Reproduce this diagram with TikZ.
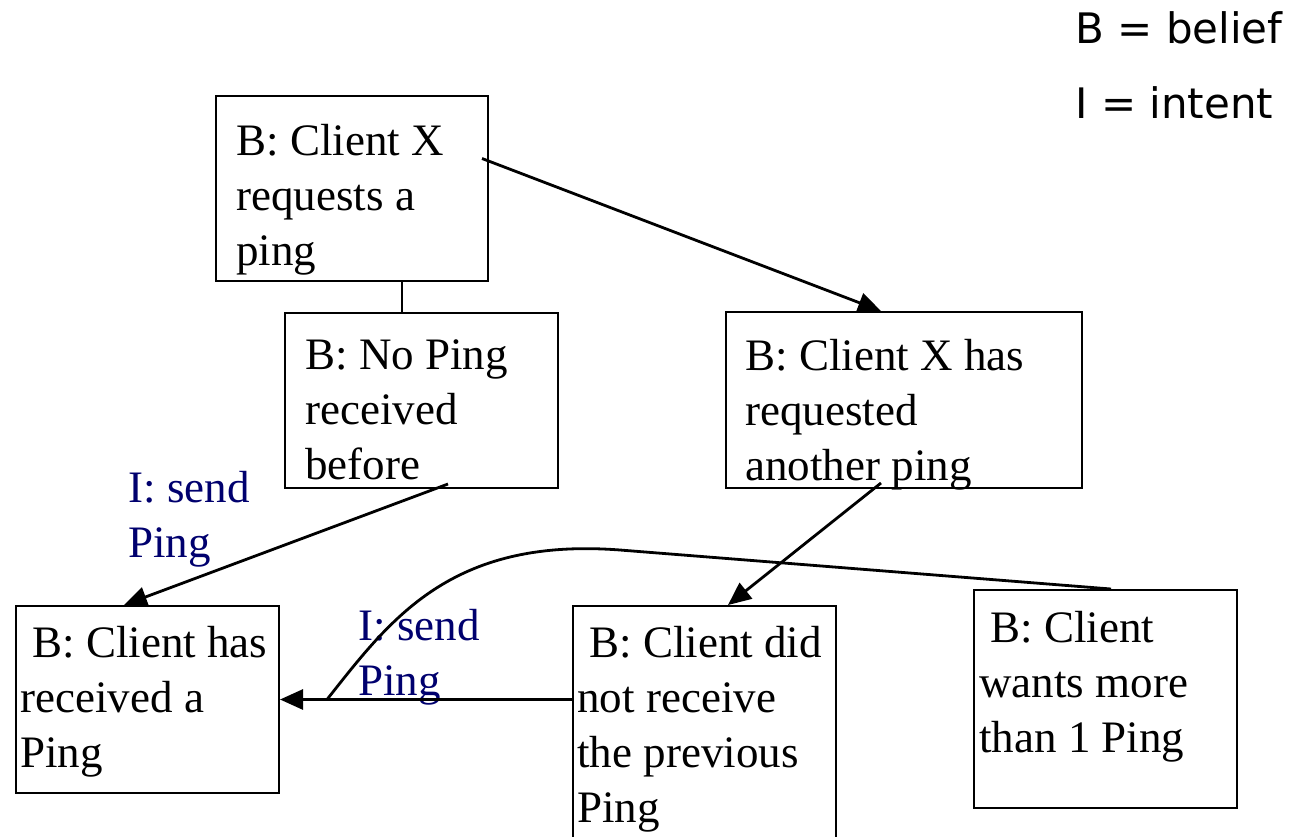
\documentclass[tikz,border=0pt]{standalone}
\usepackage{fontspec}
\setmainfont{Liberation Serif}
\newfontfamily\legendfont{DejaVu Sans}
\usepackage{tikz}
\usetikzlibrary{arrows.meta}

\definecolor{intentblue}{RGB}{0,0,110}

\tikzset{
    belief/.style={draw, line width=1pt, anchor=north west, inner sep=0pt},
    boxtext/.style={anchor=north west, inner sep=0pt, align=left,
        font=\fontsize{22.5}{27.5}\selectfont},
    intent/.style={boxtext, text=intentblue},
    link/.style={line width=1.4pt, -{Triangle[length=11.5pt,width=10pt]}}
}

\begin{document}
\begin{tikzpicture}[x=0.5pt, y=-0.5pt]
    \useasboundingbox (0,0) rectangle (1291,836);

    % Legend
    \node[anchor=north west, inner sep=0pt, align=left,
        font=\legendfont\fontsize{21}{37.5}\selectfont] (legend) at (1075,11)
        {B = belief\\I = intent};

    % Belief boxes
    \node[belief, minimum width=136pt, minimum height=92.5pt] (request) at (215,95) {};
    \node[belief, minimum width=136.5pt, minimum height=87.5pt] (noping) at (284,312) {};
    \node[belief, minimum width=178pt, minimum height=88pt] (again) at (725,311) {};
    \node[belief, minimum width=131.5pt, minimum height=93.5pt] (received) at (15,605) {};
    \node[belief, minimum width=131.5pt, minimum height=130pt] (missed) at (572,605) {};
    \node[belief, minimum width=131.5pt, minimum height=109pt] (wantmore) at (973,589) {};

    % Box texts
    \node[boxtext] (requesttext) at (236,124) {B: Client X\\requests a\\ping};
    \node[boxtext] (nopingtext) at (305,339) {B: No Ping\\received\\before};
    \node[boxtext] (againtext) at (745,339) {B: Client X has\\requested\\another ping};
    \node[boxtext] (receivedtext) at (20,626) {\hspace*{6pt}B: Client has\\received a\\Ping};
    \node[boxtext] (missedtext) at (577,626) {\hspace*{6pt}B: Client did\\not receive\\the previous\\Ping};
    \node[boxtext] (wantmoretext) at (979,611) {\hspace*{5.5pt}B: Client\\wants more\\than 1 Ping};

    % Intents
    \node[intent] (sendfirst) at (128,471) {I: send\\Ping};
    \node[intent] (sendagain) at (358,609) {I: send\\Ping};

    % Connectors
    \draw[line width=1pt] ([xshift=25pt]request.south) -- ([xshift=-9.75pt]noping.north);
    \draw[link] ([xshift=-3.5pt,yshift=15pt]request.east) -- ([xshift=-11.5pt]again.north);
    \draw[link] ([xshift=13.25pt,yshift=2.5pt]noping.south) -- ([xshift=-11.75pt]received.north);
    \draw[link] ([xshift=-11.5pt,yshift=3pt]again.south) -- ([xshift=11.75pt]missed.north);
    \draw[link] (missed.west |- received.east) -- (received.east);

    % Second ping joins the send arrow
    \coordinate (join) at ([xshift=23.5pt]received.east);
    \draw[line width=1.4pt] ([xshift=2.75pt]wantmore.north) -- (620,550)
        .. controls (450,537) and (390,620) .. (join);
\end{tikzpicture}
\end{document}
